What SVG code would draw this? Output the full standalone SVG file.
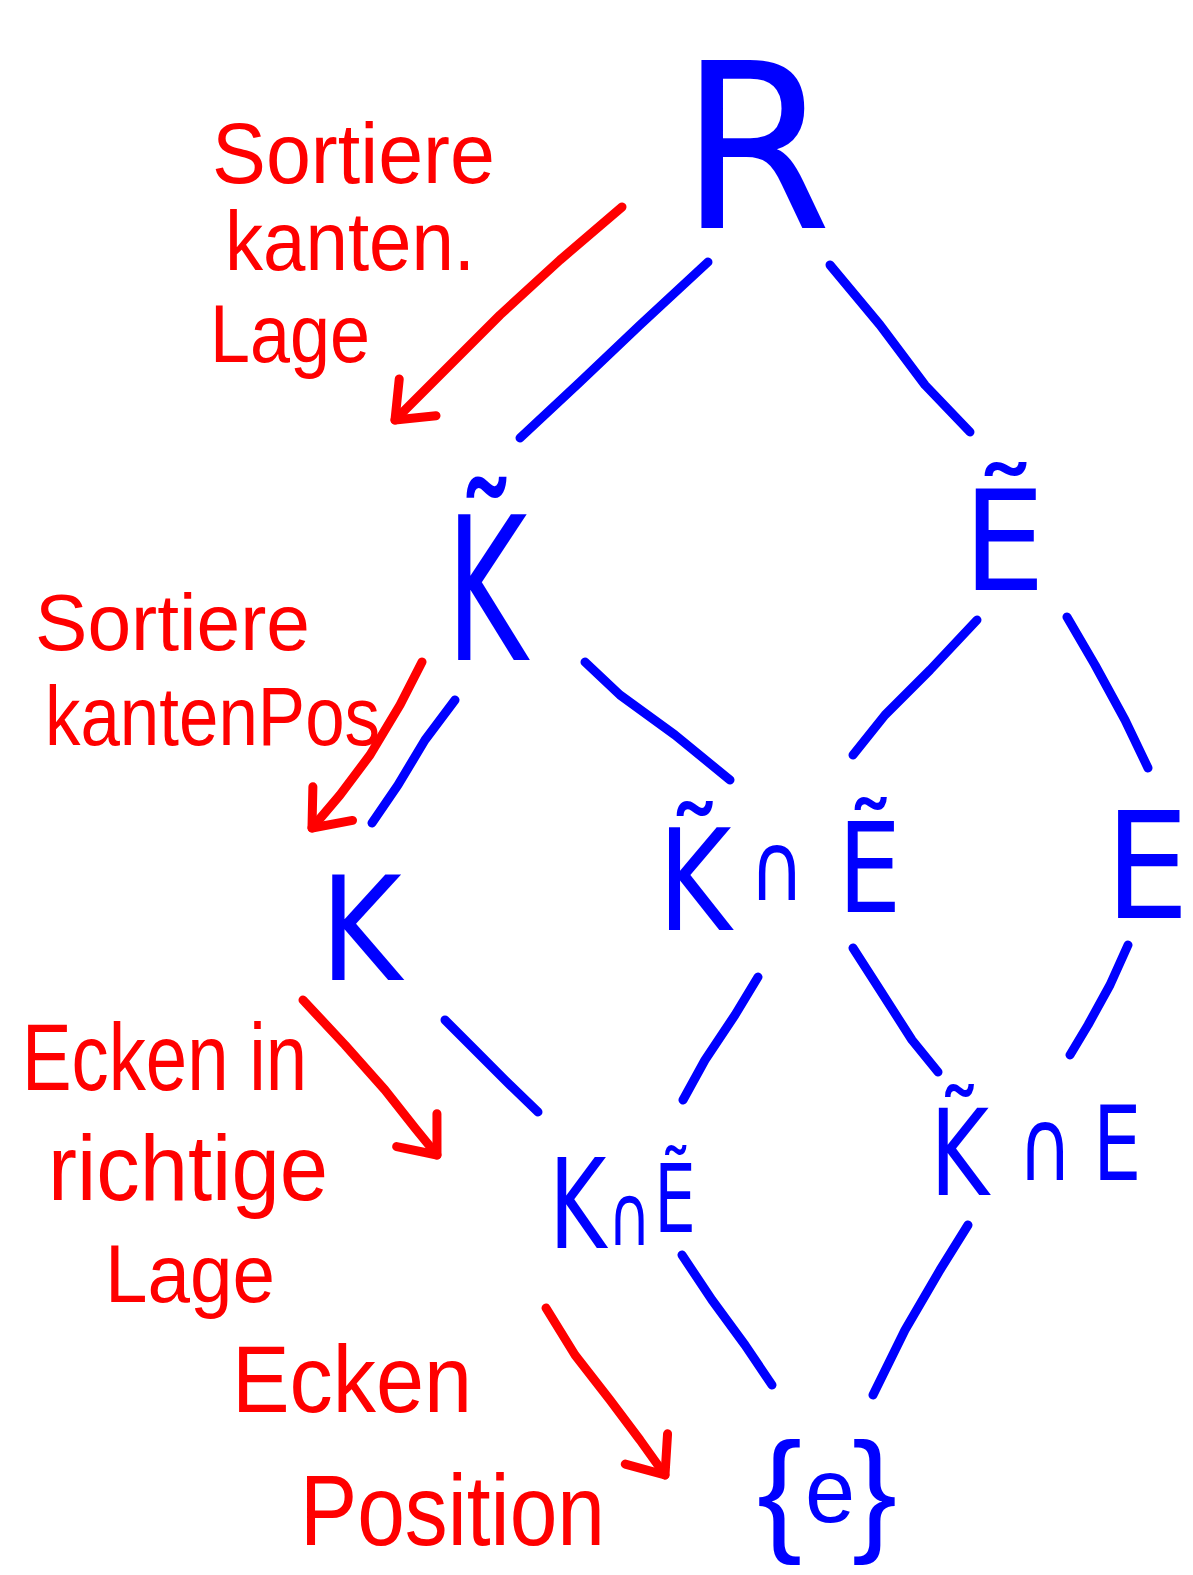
<svg xmlns="http://www.w3.org/2000/svg" width="1193" height="1575" viewBox="0 0 1193 1575">
<style>
.n{font-family:"DejaVu Sans","Liberation Sans",sans-serif;fill:#0000ff}
.b{font-family:"Liberation Sans","DejaVu Sans",sans-serif;fill:#0000ff}
.a{font-family:"Liberation Sans","DejaVu Sans",sans-serif;fill:#ff0000}
.c{stroke:#0000ff;stroke-width:9;fill:none;stroke-linecap:round;stroke-linejoin:round}
.r{stroke:#ff0000;stroke-width:9;fill:none;stroke-linecap:round;stroke-linejoin:round}
</style>
<defs>
<marker id="ah" markerUnits="userSpaceOnUse" markerWidth="80" markerHeight="80" viewBox="-40 -40 80 80" refX="0" refY="0" orient="auto" overflow="visible">
<path d="M-32,-26 L0,0 L-32,26" fill="none" stroke="#ff0000" stroke-width="9" stroke-linecap="round" stroke-linejoin="round"/>
</marker>
</defs>
<rect width="1193" height="1575" fill="#ffffff"/>

<g id="connectors">
<path class="c" d="M708,262 L640,325 L580,382 L520,438"/>
<path class="c" d="M830,265 L880,325 L925,385 L970,432"/>
<path class="c" d="M455,700 L425,740 L398,785 L372,823"/>
<path class="c" d="M585,662 L620,695 L675,735 L730,780"/>
<path class="c" d="M977,620 L930,670 L885,715 L853,755"/>
<path class="c" d="M1067,617 L1095,665 L1125,720 L1148,768"/>
<path class="c" d="M445,1020 L475,1050 L510,1085 L538,1112"/>
<path class="c" d="M758,977 L735,1015 L705,1060 L683,1100"/>
<path class="c" d="M853,948 L880,990 L912,1040 L938,1072"/>
<path class="c" d="M1128,945 L1110,985 L1088,1025 L1070,1055"/>
<path class="c" d="M682,1255 L712,1300 L745,1345 L772,1385"/>
<path class="c" d="M968,1225 L940,1270 L905,1330 L873,1395"/>
<path class="r" marker-end="url(#ah)" d="M622,207 L560,260 L500,315 L445,370 L395,420"/>
<path class="r" marker-end="url(#ah)" d="M422,662 L400,705 L370,755 L340,795 L312,828"/>
<path class="r" marker-end="url(#ah)" d="M303,1000 L345,1045 L385,1090 L415,1128 L437,1155"/>
<path class="r" marker-end="url(#ah)" d="M546,1308 L575,1355 L610,1400 L640,1440 L665,1475"/>
</g>

<g id="node-R"><text class="n" font-size="230" transform="translate(680,228) scale(0.95,1)">R</text></g>
<g id="node-Kt"><text class="n" font-size="200" transform="translate(446,660) scale(0.62,1)">K̃</text></g>
<g id="node-Et"><text class="n" font-size="140" transform="translate(963,590) scale(0.93,1)">Ẽ</text></g>
<g id="node-K"><text class="n" font-size="145" transform="translate(320,980) scale(0.86,1)">K</text></g>
<g id="node-KtEt"><text class="n" transform="translate(658,930) scale(0.8,1)"><tspan font-size="140" x="0" y="0">K̃</tspan><tspan font-size="95" x="114" y="-30">∩</tspan><tspan font-size="125" x="225" y="-18">Ẽ</tspan></text></g>
<g id="node-E"><text class="n" font-size="148" transform="translate(1105,918) scale(0.9,1)">E</text></g>
<g id="node-KEt"><text class="n" transform="translate(549,1248) scale(0.7,1)"><tspan font-size="125" x="0" y="0">K</tspan><tspan font-size="85" x="84" y="-3">∩</tspan><tspan font-size="95" x="150" y="-16">Ẽ</tspan></text></g>
<g id="node-KtE"><text class="n" transform="translate(930,1195) scale(0.75,1)"><tspan font-size="120" x="0" y="0">K̃</tspan><tspan font-size="100" x="117" y="-15">∩</tspan><tspan font-size="103" x="217" y="-15">E</tspan></text></g>
<g id="node-e"><text class="b"><tspan font-size="135" x="757" y="1537">{</tspan><tspan font-size="90" x="805" y="1522">e</tspan><tspan font-size="135" x="852" y="1537">}</tspan></text></g>

<g id="note-1">
<text class="a" font-size="86" x="212" y="183" textLength="283" lengthAdjust="spacingAndGlyphs">Sortiere</text>
<text class="a" font-size="84" x="225" y="270" textLength="250" lengthAdjust="spacingAndGlyphs">kanten.</text>
<text class="a" font-size="82" x="210" y="362" textLength="160" lengthAdjust="spacingAndGlyphs">Lage</text>
</g>
<g id="note-2">
<text class="a" font-size="80" x="35" y="650" textLength="275" lengthAdjust="spacingAndGlyphs">Sortiere</text>
<text class="a" font-size="84" x="45" y="745" textLength="335" lengthAdjust="spacingAndGlyphs">kantenPos</text>
</g>
<g id="note-3">
<text class="a" font-size="95" x="22" y="1090" textLength="285" lengthAdjust="spacingAndGlyphs">Ecken in</text>
<text class="a" font-size="92" x="48" y="1200" textLength="280" lengthAdjust="spacingAndGlyphs">richtige</text>
<text class="a" font-size="82" x="105" y="1302" textLength="170" lengthAdjust="spacingAndGlyphs">Lage</text>
</g>
<g id="note-4">
<text class="a" font-size="95" x="232" y="1412" textLength="240" lengthAdjust="spacingAndGlyphs">Ecken</text>
<text class="a" font-size="100" x="300" y="1545" textLength="305" lengthAdjust="spacingAndGlyphs">Position</text>
</g>
</svg>
